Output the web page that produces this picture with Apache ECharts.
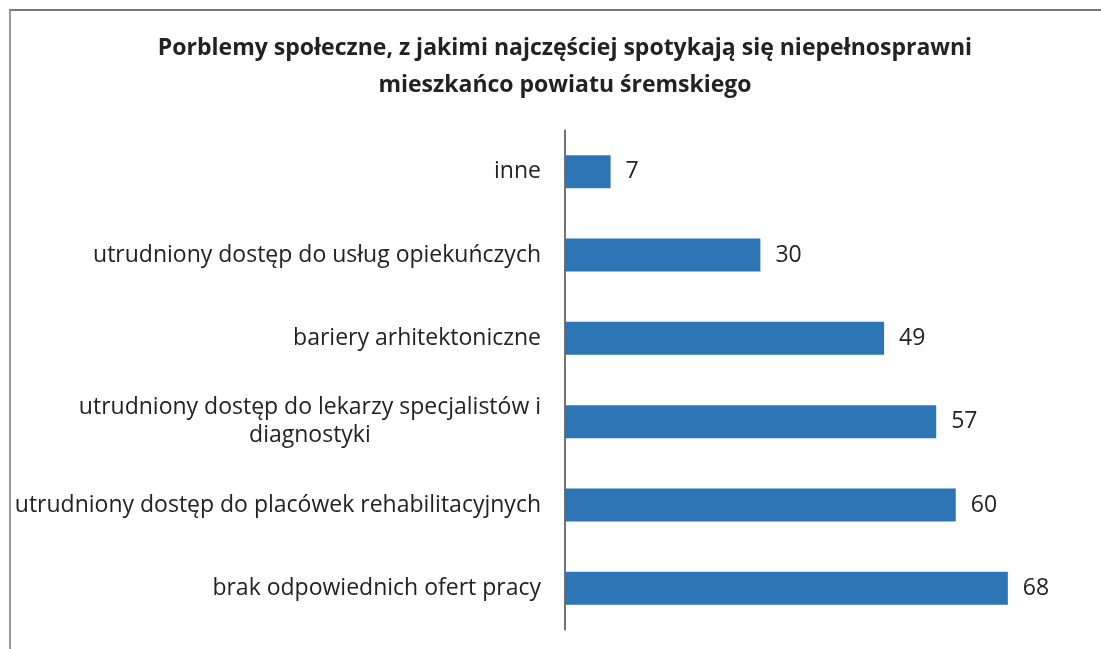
<!DOCTYPE html>
<html>
<head>
<meta charset="UTF-8">
<title>chart</title>
<script src="https://cdn.jsdelivr.net/npm/echarts@6/dist/echarts.min.js"></script>
<style>
    html, body { margin: 0; padding: 0; background: #fff; }
    #frame { position: absolute; left: 9px; top: 9px; width: 1100px; height: 650px;
             border-left: 2px solid #999; border-top: 2px solid #777; }
    #chart { position: absolute; left: 0; top: 0; width: 1101px; height: 649px; }
</style>
</head>
<body>
<div id="frame"></div>
<div id="chart"></div>
<script>
    // dane z wykresu (od dołu do góry)
    var categories = [
        'brak odpowiednich ofert pracy',
        'utrudniony dostęp do placówek rehabilitacyjnych',
        'utrudniony dostęp do lekarzy specjalistów i\ndiagnostyki',
        'bariery arhitektoniczne',
        'utrudniony dostęp do usług opiekuńczych',
        'inne'
    ];
    var values = [68, 60, 57, 49, 30, 7];

    var FONT = 'Open Sans';
    var myChart = echarts.init(document.getElementById('chart'));
    var option = {
        animation: false,
        title: {
            text: 'Porblemy społeczne, z jakimi najczęściej spotykają się niepełnosprawni\nmieszkańco powiatu śremskiego',
            left: 560,
            textAlign: 'center',
            top: 25,
            textStyle: {
                fontFamily: FONT,
                fontWeight: 'bold',
                fontSize: 23,
                lineHeight: 37,
                color: '#222'
            }
        },
        grid: {
            left: 565,
            right: 15,
            top: 130,
            bottom: 19,
            containLabel: false
        },
        xAxis: {
            type: 'value',
            min: 0,
            max: 80,
            show: false
        },
        yAxis: {
            type: 'category',
            data: categories,
            axisLine: { show: true, lineStyle: { color: '#444', width: 1.5 } },
            axisTick: { show: false },
            axisLabel: {
                margin: 24,
                fontFamily: FONT,
                fontSize: 23,
                color: '#222',
                lineHeight: 28,
                formatter: function (v) {
                    return v.split('\n').map(function (s) { return '{c|' + s + '}'; }).join('\n');
                },
                rich: {
                    c: { align: 'center', fontFamily: FONT, fontSize: 23, color: '#222', lineHeight: 28 }
                }
            }
        },
        series: [{
            type: 'bar',
            data: values,
            barWidth: 33,
            itemStyle: { color: '#2E75B6' },
            label: {
                show: true,
                position: 'right',
                distance: 15,
                fontFamily: FONT,
                fontSize: 23,
                color: '#222'
            }
        }]
    };
    myChart.setOption(option);
</script>
</body>
</html>
